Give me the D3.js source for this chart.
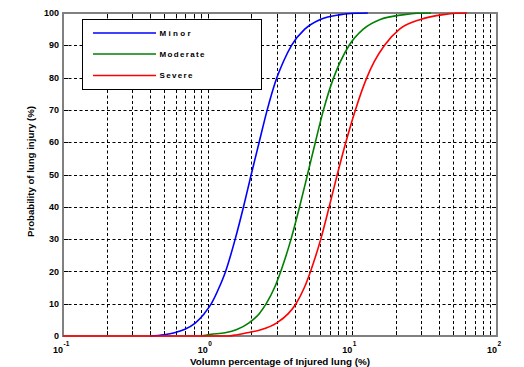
<!DOCTYPE html>
<html>
<head>
<meta charset="utf-8">
<script src="https://cdn.jsdelivr.net/npm/d3@7"></script>
<style>
  html, body { margin: 0; padding: 0; background: #fff; }
  svg { display: block; }
  text { font-family: "Liberation Sans", Arial, sans-serif; font-weight: bold; fill: #000; }
</style>
</head>
<body>
<svg id="chart" width="524" height="367"></svg>
<script>
// Injury probability curves versus injured lung volume (log scale)
const seriesNames = ["Minor", "Moderate", "Severe"];
const seriesColors = ["#0000ff", "#008000", "#ff0000"];

const minorX = [0.4, 0.5, 0.59, 0.69, 0.82, 0.95, 1.06, 1.2, 1.33, 1.55, 1.77, 2.0, 2.27, 2.58, 3.01, 3.34, 3.8, 4.69, 6.0, 8.3, 10.5, 12.8];
const minorY = [0, 0.4, 1, 2, 4, 7, 10, 15, 20, 30, 40, 50, 60, 70, 80, 85, 90, 95, 98, 99.5, 99.9, 100];

const moderateX = [0.9, 1.05, 1.32, 1.59, 1.92, 2.28, 2.54, 2.9, 3.2, 3.77, 4.32, 4.9, 5.55, 6.32, 7.43, 8.28, 9.51, 11.9, 15.6, 22.9, 28, 35];
const moderateY = [0, 0.5, 1, 2, 4, 7, 10, 15, 20, 30, 40, 50, 60, 70, 80, 85, 90, 95, 98, 99.5, 99.9, 100];

const severeX = [0.1, 1.37, 1.6, 1.88, 2.36, 2.99, 3.62, 4.08, 4.66, 5.14, 6.05, 6.92, 7.87, 9.02, 10.5, 12.6, 14.2, 16.7, 21.2, 29.6, 42.7, 52, 62];
const severeY = [0, 0, 0.4, 1, 2, 4, 7, 10, 15, 20, 30, 40, 50, 60, 70, 80, 85, 90, 95, 98, 99.5, 99.9, 100];

const xDecades = [0.1, 1, 10, 100];
const xDecadeExponents = ["-1", "0", "1", "2"];
const yTicks = [0, 10, 20, 30, 40, 50, 60, 70, 80, 90, 100];

const xTitle = "Volumn percentage of Injured lung (%)";
const yTitle = "Probability of lung injury (%)";

const svg = d3.select("#chart");
const plotLeft = 63, plotRight = 497, plotTop = 13, plotBottom = 336;

const x = d3.scaleLog().domain([0.1, 100]).range([plotLeft, plotRight]);
const y = d3.scaleLinear().domain([0, 100]).range([plotBottom, plotTop]);

// minor positions 1..9 within each decade
const xGrid = [];
for (let d = 0; d < 3; d++) {
  for (let k = 1; k <= 9; k++) xGrid.push(xDecades[d] * k);
}
xGrid.push(100);

// dashed grid
const grid = svg.append("g").attr("stroke", "#000").attr("stroke-width", 1).attr("stroke-dasharray", "3,2.5");
grid.selectAll("line.v").data(xGrid.filter(v => v > 0.1 && v < 100)).join("line")
  .attr("x1", d => Math.round(x(d)) + 0.5).attr("x2", d => Math.round(x(d)) + 0.5)
  .attr("y1", plotTop).attr("y2", plotBottom);
grid.selectAll("line.h").data(yTicks.filter(v => v > 0 && v < 100)).join("line")
  .attr("x1", plotLeft).attr("x2", plotRight)
  .attr("y1", d => Math.round(y(d)) + 0.5).attr("y2", d => Math.round(y(d)) + 0.5);

// inward tick marks on all four sides
const ticks = svg.append("g").attr("stroke", "#000").attr("stroke-width", 1);
xGrid.forEach(v => {
  const px = Math.round(x(v)) + 0.5;
  ticks.append("line").attr("x1", px).attr("x2", px).attr("y1", plotTop).attr("y2", plotTop + 5);
  ticks.append("line").attr("x1", px).attr("x2", px).attr("y1", plotBottom).attr("y2", plotBottom - 5);
});
yTicks.forEach(v => {
  const py = Math.round(y(v)) + 0.5;
  ticks.append("line").attr("x1", plotLeft).attr("x2", plotLeft + 5).attr("y1", py).attr("y2", py);
  ticks.append("line").attr("x1", plotRight).attr("x2", plotRight - 5).attr("y1", py).attr("y2", py);
});

// axes frame
svg.append("rect").attr("x", plotLeft).attr("y", plotTop).attr("width", plotRight - plotLeft).attr("height", plotBottom - plotTop)
  .attr("fill", "none").attr("stroke", "#808080").attr("stroke-width", 2);

// curves
const series = [
  { xs: minorX, ys: minorY },
  { xs: moderateX, ys: moderateY },
  { xs: severeX, ys: severeY }
];
const line = d3.line().x(d => x(d[0])).y(d => y(d[1])).curve(d3.curveMonotoneX);
series.forEach((s, i) => {
  svg.append("path")
    .datum(s.xs.map((v, j) => [v, s.ys[j]]))
    .attr("d", line)
    .attr("fill", "none")
    .attr("stroke", seriesColors[i])
    .attr("stroke-width", 1.6);
});

// y tick labels
svg.append("g").selectAll("text").data(yTicks).join("text")
  .attr("x", plotLeft - 4).attr("y", d => y(d)).attr("dy", "0.35em")
  .attr("text-anchor", "end").attr("font-size", 9).text(d => d);

// x decade labels: 10 with superscript exponent
xDecades.forEach((v, i) => {
  const px = x(v);
  svg.append("text").attr("x", px).attr("y", 352.5).attr("text-anchor", "end")
    .attr("font-size", 9).text("10");
  svg.append("text").attr("x", px + 0.5).attr("y", 345.5).attr("text-anchor", "start")
    .attr("font-size", 6.5).text(xDecadeExponents[i]);
});

// axis titles
svg.append("text").attr("x", (plotLeft + plotRight) / 2).attr("y", 364.5).attr("text-anchor", "middle")
  .attr("font-size", 9).attr("textLength", 180).attr("lengthAdjust", "spacingAndGlyphs").text(xTitle);
svg.append("text").attr("transform", "translate(34,171.5) rotate(-90)").attr("text-anchor", "middle")
  .attr("font-size", 9).attr("textLength", 131).attr("lengthAdjust", "spacingAndGlyphs").text(yTitle);

// legend
const legend = svg.append("g");
legend.append("rect").attr("x", 82.5).attr("y", 19.5).attr("width", 179).attr("height", 70)
  .attr("fill", "#fff").attr("stroke", "#000").attr("stroke-width", 1);
const legendRows = [33, 54, 75.5];
const legendLengths = [31, 45, 33];
seriesNames.forEach((name, i) => {
  legend.append("line").attr("x1", 93).attr("x2", 156).attr("y1", legendRows[i]).attr("y2", legendRows[i])
    .attr("stroke", seriesColors[i]).attr("stroke-width", 1.6);
  legend.append("text").attr("x", 159.5).attr("y", legendRows[i]).attr("dy", "0.35em")
    .attr("font-size", 8).attr("textLength", legendLengths[i]).attr("lengthAdjust", "spacing").text(name);
});
</script>
</body>
</html>
